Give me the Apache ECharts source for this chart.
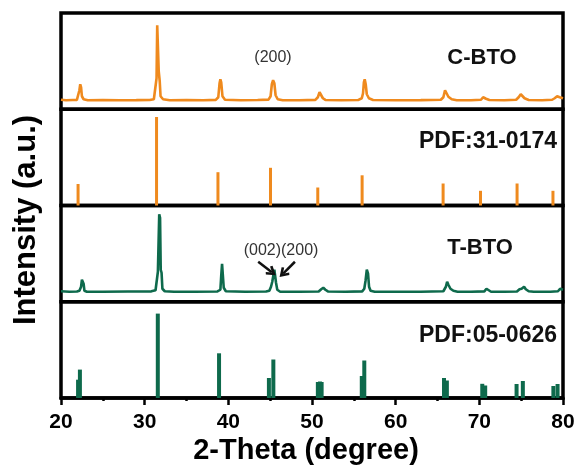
<!DOCTYPE html>
<html>
<head>
<meta charset="utf-8">
<script src="https://cdn.jsdelivr.net/npm/echarts@6/dist/echarts.min.js"></script>
<style>
  html, body { margin: 0; padding: 0; background: #fff; }
  #chart { width: 579px; height: 472px; }
</style>
</head>
<body>
<div id="chart"></div>
<script>
// ---------- data ----------
const xTicks = [20, 30, 40, 50, 60, 70, 80];
const panelNames = ['C-BTO', 'PDF:31-0174', 'T-BTO', 'PDF:05-0626'];

// C-BTO measured pattern [2θ, intensity]
const cbtoPattern = [
  [20,9.5],[20.6,9],[21.4,9.3],[21.9,9.4],[22.05,11],[22.2,19],[22.3,25],[22.4,22],[22.5,13],[22.7,10],[23.2,9],
  [25,9.2],[27,9],[29,9.1],[30.6,9.3],[31.1,10],[31.3,12],[31.42,31],[31.5,84],[31.6,82],[31.68,38],[31.8,28],[31.9,13],[32.2,10],[33,9],
  [35,9.2],[37,9],[38.5,9.4],[38.8,12],[38.95,26],[39.05,30],[39.15,27],[39.3,13],[39.6,9.5],
  [41.5,9],[43.5,9.2],[44.8,9.6],[45.05,13],[45.2,25],[45.35,29],[45.5,26],[45.65,14],[45.9,10],[46.5,9],
  [48.5,9],[50.4,9.4],[50.7,12],[50.9,17],[51.05,16],[51.3,11],[51.6,9.3],
  [53.5,9],[55.5,9.2],[55.95,11],[56.1,16],[56.2,27],[56.3,30],[56.42,25],[56.55,15],[56.8,11],[57.3,9.3],
  [60,9],[63,9.1],[65.4,9.5],[65.7,12],[65.9,19],[66.05,17],[66.3,12.5],[66.7,10],[67.3,9],
  [69,9],[70.2,9.5],[70.45,12],[70.6,13],[70.8,10.5],[71.2,9.2],
  [73,9],[74.4,9.5],[74.7,12],[74.95,15],[75.15,14],[75.4,11],[75.9,9.3],
  [77.5,9],[78.7,9.5],[79.0,11],[79.3,13],[79.6,12],[80,11]
];

// PDF 31-0174 reference lines
const pdf31Angles = [22.04, 31.42, 38.76, 45.04, 50.69, 55.99, 65.67, 70.14, 74.51, 78.80];
const pdf31Heights = [21.5, 88.5, 33.3, 37.7, 18, 30.2, 22, 14.7, 22, 14.7];

// T-BTO measured pattern [2θ, intensity]
const tbtoPattern = [
  [20,10.5],[21,10],[21.9,10.2],[22.2,11],[22.4,15],[22.5,22],[22.6,24],[22.7,18],[22.8,11],[23.1,10],
  [25,10],[28,10.2],[30.8,10.4],[31.3,11.5],[31.5,13],[31.58,30],[31.68,31],[31.74,87.5],[31.84,84],[31.92,32],[32.02,29],[32.12,13],[32.4,10.5],[33.5,10],
  [36,10],[38.7,10.3],[39.05,12],[39.15,26],[39.25,38],[39.38,36],[39.45,14],[39.7,10.5],
  [42,10],[44.5,10.2],[44.9,11],[45.1,15],[45.25,20],[45.42,21],[45.5,32],[45.62,31],[45.7,19],[45.85,12],[46.2,10],
  [48.5,10],[50.8,10.3],[51.1,12.5],[51.35,14],[51.6,12],[51.9,10.3],
  [54,10],[56,10.4],[56.25,13],[56.4,21],[56.55,32],[56.7,28],[56.82,15],[57.0,11],[57.5,10],
  [60,10],[63,10],[65.7,10.5],[66.0,15],[66.15,20],[66.3,17],[66.55,13],[66.9,11],[67.4,10],
  [69,10],[70.6,10.4],[70.85,13],[71.05,11],[71.4,10],
  [73,10],[74.5,10.3],[74.8,12.5],[75.05,13],[75.2,12],[75.35,15],[75.55,12.5],[75.9,10.5],[76.5,10],
  [78.5,10],[79.4,10.5],[79.65,13],[79.85,12.5],[80,12]
];

// PDF 05-0626 reference lines
const pdf05Angles = [22.04, 22.26, 31.57, 38.89, 44.85, 45.38, 50.70, 50.95, 51.15, 55.95, 56.25, 65.78, 66.12, 70.35, 70.70, 74.45, 75.20, 78.85, 79.35];
const pdf05Heights = [18.3, 28.4, 84.4, 44.7, 20, 38.5, 16, 16.5, 16, 22, 37.5, 20, 17.5, 14.2, 12.5, 14, 17, 12, 14];

// annotation arrows (data coords in T-BTO panel)
const arrowStarts = [[43.57, 40], [47.96, 40]];
const arrowEnds = [[45.2, 29.5], [46.55, 28.2]];

// ---------- chart ----------
const ORANGE = '#EF8A1E';
const GREEN = '#0E6A4C';
const FONT = '"Liberation Sans", Arial, sans-serif';

const gridTop = 13, gridBottom = 398, gridLeft = 61, gridRight = 563;
const panelH = (gridBottom - gridTop) / 4;

const grids = [], xAxes = [], yAxes = [];
for (let i = 0; i < 4; i++) {
  grids.push({
    left: gridLeft, width: gridRight - gridLeft,
    top: gridTop + i * panelH, height: panelH,
    show: true, borderColor: '#000', borderWidth: 3.5,
    backgroundColor: 'transparent'
  });
  const last = i === 3;
  xAxes.push({
    gridIndex: i, type: 'value',
    min: xTicks[0], max: xTicks[xTicks.length - 1], interval: 10,
    show: last,
    axisLine: { show: true, lineStyle: { color: '#000', width: 3.5 } },
    axisTick: { show: true, length: 7, lineStyle: { color: '#000', width: 2.5 } },
    minorTick: { show: true, splitNumber: 2, length: 3, lineStyle: { color: '#000', width: 2.5 } },
    axisLabel: { show: last, color: '#000', fontSize: 21, fontWeight: 'bold', fontFamily: FONT, margin: 14 },
    splitLine: { show: false }, minorSplitLine: { show: false }
  });
  yAxes.push({ gridIndex: i, type: 'value', min: 0, max: panelH, show: false, splitLine: { show: false } });
}

function zip(a, b) { return a.map((v, k) => [v, b[k]]); }

const chevron = 'path://M5,0 L10,7.5 L8.2,9 L5,4.2 L1.8,9 L0,7.5 Z';

const series = [
  {
    type: 'line', xAxisIndex: 0, yAxisIndex: 0, data: cbtoPattern,
    showSymbol: false, symbol: 'none', lineStyle: { color: ORANGE, width: 2.6 }, silent: true
  },
  {
    type: 'bar', xAxisIndex: 1, yAxisIndex: 1, data: zip(pdf31Angles, pdf31Heights),
    barWidth: 3, itemStyle: { color: ORANGE }, silent: true
  },
  {
    type: 'line', xAxisIndex: 2, yAxisIndex: 2, data: tbtoPattern,
    showSymbol: false, symbol: 'none', lineStyle: { color: GREEN, width: 2.6 }, silent: true,
    markLine: {
      silent: true, animation: false,
      symbol: ['none', chevron], symbolSize: [11, 10],
      lineStyle: { color: '#111', width: 2.5, type: 'solid' },
      label: { show: false },
      data: arrowStarts.map((s, k) => [{ coord: s }, { coord: arrowEnds[k] }])
    }
  },
  {
    type: 'bar', xAxisIndex: 3, yAxisIndex: 3, data: zip(pdf05Angles, pdf05Heights),
    barWidth: 4, barGap: '-100%', itemStyle: { color: GREEN }, silent: true
  }
];

function txt(t, x, y, size, weight, color, rot) {
  return {
    type: 'text', x: x, y: y, rotation: rot || 0, z: 100,
    style: {
      text: t, fill: color, font: weight + ' ' + size + 'px ' + FONT,
      align: 'center', verticalAlign: 'middle',
      textAlign: 'center', textVerticalAlign: 'middle'
    }
  };
}

const graphics = [
  txt(panelNames[0], 482, 58, 22, 'bold', '#111'),
  txt(panelNames[1], 488, 142, 23, 'bold', '#111'),
  txt(panelNames[2], 480, 248, 22, 'bold', '#111'),
  txt(panelNames[3], 488, 336, 23, 'bold', '#111'),
  txt('(200)', 273, 58, 16, 'normal', '#333'),
  txt('(002)(200)', 281, 251, 16, 'normal', '#333'),
  txt('2-Theta (degree)', 306, 451, 29, 'bold', '#000'),
  txt('Intensity (a.u.)', 26, 220, 31, 'bold', '#000', Math.PI / 2)
];

const chart = echarts.init(document.getElementById('chart'), null, { renderer: 'canvas' });
chart.setOption({
  animation: false,
  backgroundColor: '#fff',
  grid: grids, xAxis: xAxes, yAxis: yAxes,
  series: series,
  graphic: graphics
});
</script>
</body>
</html>
